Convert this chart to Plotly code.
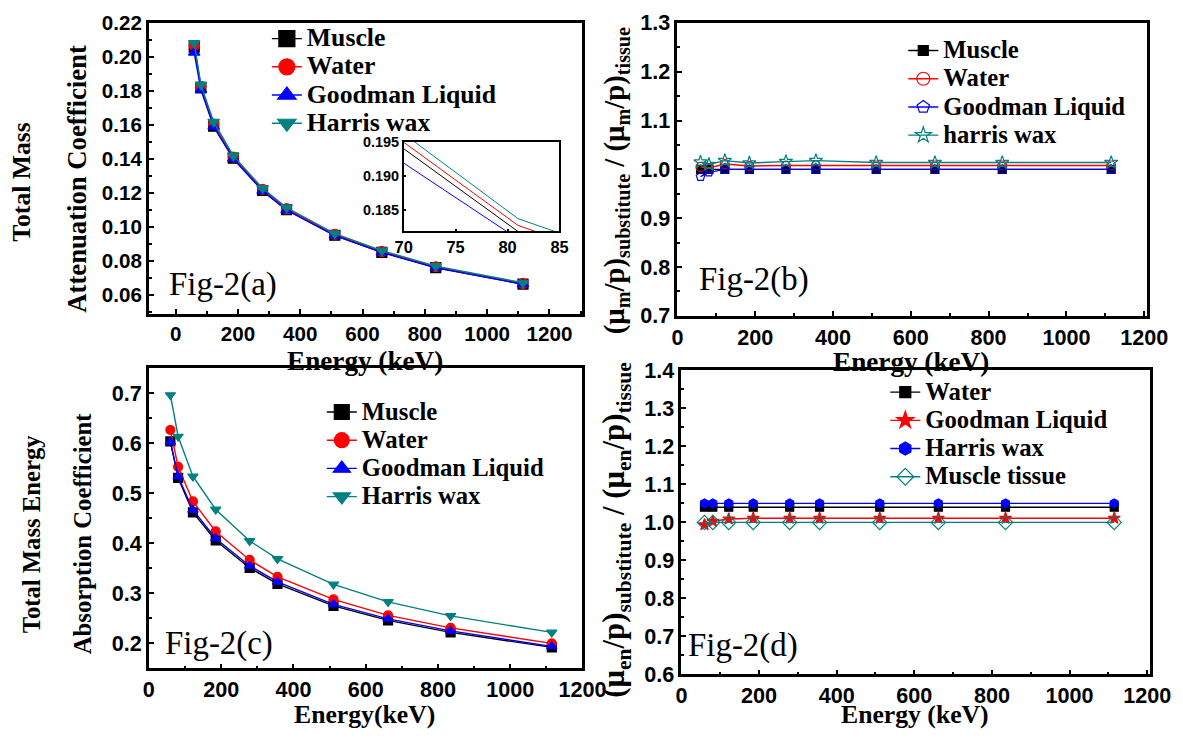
import plotly.graph_objects as go

W, H = 1183, 740

# ---------------- data ----------------
energy = [59.5, 81, 122, 185, 279, 356, 511, 662, 835, 1115]

# Fig-2(a): total mass attenuation coefficient
a_muscle = [0.2057, 0.1818, 0.1593, 0.1405, 0.1215, 0.1102, 0.0952, 0.0852, 0.0762, 0.0665]
a_water = [0.2067, 0.1827, 0.1605, 0.1412, 0.1222, 0.1108, 0.0958, 0.0857, 0.0767, 0.0669]
a_goodman = [0.2026, 0.1807, 0.1590, 0.1402, 0.1213, 0.1100, 0.0950, 0.0851, 0.0761, 0.0664]
a_harris = [0.2082, 0.1837, 0.1618, 0.1420, 0.1228, 0.1115, 0.0962, 0.0862, 0.0771, 0.0673]

# Fig-2(b): ratio of mass attenuation coefficients
b_muscle = [1.000, 1.000, 1.000, 1.000, 1.000, 1.000, 1.000, 1.000, 1.000, 1.000]
b_water = [1.005, 1.003, 1.011, 1.007, 1.008, 1.008, 1.008, 1.008, 1.008, 1.008]
b_goodman = [0.985, 0.994, 1.000, 1.000, 1.000, 1.000, 1.000, 1.000, 1.000, 1.000]
b_harris = [1.015, 1.010, 1.018, 1.013, 1.016, 1.018, 1.014, 1.014, 1.014, 1.014]

# Fig-2(c): total mass energy absorption coefficient
c_muscle = [0.604, 0.531, 0.462, 0.406, 0.351, 0.319, 0.275, 0.246, 0.222, 0.192]
c_water = [0.627, 0.553, 0.484, 0.424, 0.367, 0.333, 0.288, 0.256, 0.231, 0.200]
c_goodman = [0.603, 0.534, 0.467, 0.410, 0.355, 0.323, 0.278, 0.249, 0.225, 0.194]
c_harris = [0.697, 0.614, 0.534, 0.468, 0.405, 0.369, 0.318, 0.283, 0.255, 0.222]

# Fig-2(d): ratio of mass energy absorption coefficients
d_water = [1.040, 1.040, 1.040, 1.040, 1.040, 1.040, 1.040, 1.040, 1.040, 1.040]
d_goodman = [0.994, 1.003, 1.009, 1.011, 1.011, 1.011, 1.011, 1.011, 1.011, 1.011]
d_harris = [1.050, 1.050, 1.050, 1.050, 1.050, 1.050, 1.050, 1.050, 1.050, 1.050]
d_muscle = [1.000, 1.000, 1.000, 1.000, 1.000, 1.000, 1.000, 1.000, 1.000, 1.000]

BLACK, RED, BLUE, TEAL = "#000000", "#FF0000", "#0000FF", "#008080"
SERIF = "Liberation Serif"
SANS = "Liberation Sans"

# the captured picture shows the page scaled by ~0.973 with a 10 px offset;
# positions below are given in target picture pixels and converted here
S, O = 0.973, 10.0
K = 1 / S


def F(p):
    return (p - O) / S


def px(x):
    return F(x) / W


def py(y):
    return 1 - F(y) / H


def fs(v):
    return round(v * K, 1)


fig = go.Figure()


def add_series(xa, ya, y, name, color, symbol, msize, legend, lsize, tsize, lw=1.4):
    fig.add_trace(go.Scatter(
        x=energy, y=y, mode="lines+markers", xaxis=xa, yaxis=ya,
        line=dict(color=color, width=lw),
        marker=dict(symbol=symbol, size=msize, color=color,
                    line=dict(color=color, width=1.2)),
        showlegend=False, name=name))
    # legend entry with larger symbol
    fig.add_trace(go.Scatter(
        x=[None], y=[None], mode="lines+markers", xaxis=xa, yaxis=ya,
        line=dict(color=color, width=lw),
        marker=dict(symbol=symbol, size=lsize, color=color,
                    line=dict(color=color, width=1.2)),
        name=f'<span style="font-size:{fs(tsize)}px">{name}</span>',
        legend=legend, showlegend=True))


# (a)
add_series("x", "y", a_muscle, "Muscle", BLACK, "square", 10, "legend", 16, 25)
add_series("x", "y", a_water, "Water", RED, "circle", 10, "legend", 16, 25)
add_series("x", "y", a_goodman, "Goodman Liquid", BLUE, "triangle-up", 10, "legend", 16, 25)
add_series("x", "y", a_harris, "Harris wax", TEAL, "triangle-down", 10, "legend", 16, 25)

# inset of (a)
for yv, col in [(a_muscle, BLACK), (a_water, RED), (a_goodman, BLUE), (a_harris, TEAL)]:
    fig.add_trace(go.Scatter(x=energy, y=yv, mode="lines", xaxis="x5", yaxis="y5",
                             line=dict(color=col, width=1), showlegend=False))

# (b)
add_series("x2", "y2", b_muscle, "Muscle", BLACK, "square", 8, "legend2", 10, 24)
add_series("x2", "y2", b_water, "Water", RED, "circle-open", 9, "legend2", 13, 24)
add_series("x2", "y2", b_goodman, "Goodman Liquid", BLUE, "pentagon-open", 9, "legend2", 13, 24)
add_series("x2", "y2", b_harris, "harris wax", TEAL, "star-open", 10, "legend2", 12, 24)

# (c)
add_series("x3", "y3", c_muscle, "Muscle", BLACK, "square", 9, "legend3", 15, 24)
add_series("x3", "y3", c_water, "Water", RED, "circle", 9, "legend3", 15, 24)
add_series("x3", "y3", c_goodman, "Goodman Liquid", BLUE, "triangle-up", 9, "legend3", 15, 24)
add_series("x3", "y3", c_harris, "Harris wax", TEAL, "triangle-down", 9, "legend3", 15, 24)

# (d)
add_series("x4", "y4", d_water, "Water", BLACK, "square", 8, "legend4", 11, 24)
add_series("x4", "y4", d_goodman, "Goodman Liquid", RED, "star", 9, "legend4", 13, 24)
add_series("x4", "y4", d_harris, "Harris wax", BLUE, "hexagon", 9, "legend4", 13, 24)
add_series("x4", "y4", d_muscle, "Muscle tissue", TEAL, "diamond-open", 11, "legend4", 13, 24)


def axis(domain, rng, dtick, minor, fsize, fmt=None, anchor=None, lw=2.6, tlen=5):
    d = dict(domain=domain, range=rng, dtick=dtick, tick0=0, showline=True,
             linewidth=lw, linecolor="black", mirror=True, ticks="inside",
             ticklen=tlen, tickwidth=2, tickcolor="black", showgrid=False,
             zeroline=False,
             tickfont=dict(family=SANS, size=fs(fsize), color="black", weight="bold"),
             minor=dict(ticks="inside", dtick=minor, ticklen=3, tickwidth=1.5,
                        tickcolor="black", showgrid=False))
    if fmt:
        d["tickformat"] = fmt
    if anchor:
        d["anchor"] = anchor
    return d


A_X = [px(150), px(584)]
A_Y = [py(314), py(21)]
B_X = [px(679), px(1149)]
B_Y = [py(316), py(21)]
C_X = [px(150), px(584)]
C_Y = [py(671), py(369)]
D_X = [px(683), px(1152)]
D_Y = [py(677), py(371)]
I_X = [px(405), px(561)]
I_Y = [py(231), py(141)]

fig.update_layout(
    width=W, height=H, margin=dict(l=0, r=0, t=0, b=0),
    paper_bgcolor="white", plot_bgcolor="rgba(0,0,0,0)",
    xaxis=axis(A_X, [-86, 1306], 200, 100, 20, anchor="y"),
    yaxis=axis(A_Y, [0.049, 0.22], 0.02, 0.01, 20, ".2f", anchor="x"),
    xaxis2=axis(B_X, [0, 1207], 200, 100, 21, anchor="y2"),
    yaxis2=axis(B_Y, [0.7, 1.3], 0.1, 0.05, 21, ".1f", anchor="x2"),
    xaxis3=axis(C_X, [0, 1200], 200, 100, 21, anchor="y3"),
    yaxis3=axis(C_Y, [0.15, 0.75], 0.1, 0.05, 21, ".1f", anchor="x3"),
    xaxis4=axis(D_X, [0, 1207], 200, 100, 21, anchor="y4"),
    yaxis4=axis(D_Y, [0.6, 1.4], 0.1, 0.05, 21, ".1f", anchor="x4"),
    xaxis5=axis(I_X, [70, 85], 5, None, 16, anchor="y5", lw=1.5, tlen=3),
    yaxis5=axis(I_Y, [0.1818, 0.195], 0.005, None, 14, ".3f", anchor="x5", lw=1.5, tlen=3),
)
for ax in ["xaxis5", "yaxis5"]:
    fig.layout[ax].minor = dict(ticks="")


def legend(text_x, row1_y):
    # plotly puts the entry text ~41 px right of the legend x and
    # the first row centre ~20 px under the legend top
    x = (F(text_x) - 41) / W
    y = 1 - (F(row1_y) - 20) / H
    return dict(x=x, y=y, xanchor="left", yanchor="top",
                bgcolor="rgba(0,0,0,0)", borderwidth=0, tracegroupgap=0,
                font=dict(family=SERIF, size=19.4, color="black", weight="bold"),
                itemsizing="trace")


fig.update_layout(
    legend=legend(308, 37),
    legend2=legend(945, 49),
    legend3=legend(363, 413),
    legend4=legend(927, 393),
)

ann = []


def text(x, y, s, size, bold=True, angle=0, xanchor="center", family=SERIF, fy=None):
    yy = (1 - fy / H) if fy is not None else py(y)
    ann.append(dict(x=px(x), y=yy, xref="paper", yref="paper", text=s,
                    showarrow=False, textangle=angle, xanchor=xanchor, yanchor="middle",
                    font=dict(family=family, size=fs(size), color="black",
                              weight="bold" if bold else "normal")))


# axis titles (the bottom ones are kept inside the page)
text(366, 361, "Energy (keV)", 26.5)
text(913, 362, "Energy (keV)", 26.5)
text(366, 718, "Energy(keV)", 25, fy=min(F(718), 727.5))
text(917, 724, "Energy (keV)", 25, fy=min(F(724), 727.5))

text(23, 181, "Total Mass", 25, angle=-90)
text(78, 178, "Attenuation Coefficient", 26, angle=-90)
text(32, 535, "Total Mass Energy", 24, angle=-90)
text(83, 535, "Absorption Coefficient", 24, angle=-90)

text(617, 180, "(μ<sub>m</sub>/p)<sub>substitute</sub> / (μ<sub>m</sub>/p)<sub>tissue</sub>",
     28, angle=-90)
text(618, 531, "(μ<sub>en</sub>/p)<sub>substitute</sub> / (μ<sub>en</sub>/p)<sub>tissue</sub>",
     30, angle=-90)

# panel labels
text(168, 284, "Fig-2(a)", 32, bold=False, xanchor="left")
text(699, 279, "Fig-2(b)", 32, bold=False, xanchor="left")
text(164, 646, "Fig-2(c)", 32, bold=False, xanchor="left")
text(688, 648, "Fig-2(d)", 32, bold=False, xanchor="left")

fig.update_layout(annotations=ann)

fig.write_html("out.html",
               config={"displayModeBar": False},
               post_script="document.body.style.margin='0px';"
                           "document.body.style.padding='0px';"
                           "document.documentElement.style.overflow='hidden';")
